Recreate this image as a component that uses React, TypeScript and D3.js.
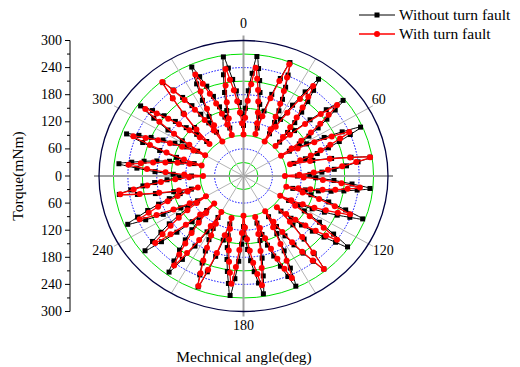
import React from 'react';
import * as d3 from 'd3';

// Petal start angles (deg, clockwise from top) and sample offsets within a petal
const petalStarts = [0, 15, 30, 45, 60, 75, 90, 105, 120, 135, 150, 165, 180, 195, 210, 225, 240, 255, 270, 285, 300, 315, 330, 345];
const sampleOffsets = [0, 1.5, 3, 4.5, 6, 7.5, 9, 10.5, 12, 13.5];

// Torque (mNm) without turn fault, one row per petal
const withoutFault = [
  [112, 150, 189, 228, 266, 240, 214, 188, 162, 136],
  [110, 150, 190, 229, 269, 242, 215, 188, 162, 135],
  [108, 147, 187, 226, 265, 239, 212, 186, 159, 133],
  [106, 146, 186, 226, 266, 240, 214, 188, 162, 136],
  [110, 149, 188, 227, 266, 240, 213, 187, 161, 134],
  [108, 148, 187, 227, 266, 240, 215, 189, 163, 138],
  [112, 150, 188, 226, 264, 238, 211, 185, 159, 132],
  [106, 146, 186, 225, 265, 239, 213, 186, 160, 134],
  [108, 148, 188, 227, 267, 241, 215, 188, 162, 136],
  [110, 149, 188, 226, 265, 238, 211, 185, 158, 131],
  [104, 145, 186, 226, 267, 241, 214, 188, 161, 135],
  [108, 147, 186, 225, 264, 239, 213, 188, 163, 137],
  [112, 151, 189, 228, 266, 240, 214, 188, 162, 136],
  [110, 148, 187, 225, 263, 237, 211, 184, 158, 132],
  [106, 145, 185, 224, 263, 237, 211, 186, 160, 134],
  [108, 147, 186, 224, 263, 238, 212, 187, 161, 136],
  [110, 148, 187, 225, 263, 238, 213, 187, 162, 137],
  [112, 149, 187, 224, 261, 236, 210, 185, 159, 134],
  [108, 146, 184, 222, 260, 234, 209, 183, 157, 132],
  [106, 145, 183, 222, 260, 235, 210, 185, 160, 135],
  [110, 149, 187, 226, 264, 238, 212, 186, 160, 134],
  [108, 148, 187, 227, 266, 240, 215, 189, 163, 138],
  [112, 150, 188, 226, 264, 238, 213, 187, 161, 136],
  [110, 149, 189, 228, 267, 241, 215, 189, 163, 138],
];

// Torque (mNm) with turn fault
const withFault = [
  [92, 129, 167, 204, 241, 217, 193, 168, 144, 120],
  [96, 138, 181, 223, 265, 236, 206, 177, 147, 118],
  [88, 128, 167, 207, 246, 221, 195, 170, 145, 119],
  [94, 133, 172, 211, 250, 223, 197, 170, 143, 117],
  [90, 128, 165, 203, 240, 217, 193, 170, 147, 123],
  [100, 142, 183, 225, 266, 236, 206, 176, 146, 116],
  [86, 125, 165, 204, 243, 218, 193, 167, 142, 117],
  [92, 128, 165, 201, 237, 212, 187, 163, 138, 113],
  [88, 126, 164, 202, 240, 216, 193, 169, 145, 122],
  [98, 140, 182, 223, 265, 236, 207, 178, 148, 119],
  [90, 129, 169, 208, 247, 222, 196, 171, 145, 120],
  [94, 132, 170, 207, 245, 219, 193, 166, 140, 114],
  [88, 126, 164, 202, 240, 216, 192, 168, 144, 120],
  [96, 137, 179, 220, 261, 233, 205, 176, 148, 120],
  [92, 130, 169, 207, 245, 219, 192, 166, 139, 113],
  [86, 124, 161, 199, 236, 212, 187, 163, 139, 114],
  [90, 127, 163, 200, 236, 213, 190, 167, 144, 121],
  [98, 138, 179, 219, 259, 230, 201, 172, 142, 113],
  [84, 123, 162, 201, 240, 215, 190, 165, 140, 115],
  [90, 129, 168, 206, 245, 220, 194, 169, 143, 118],
  [92, 132, 172, 212, 252, 227, 201, 176, 151, 125],
  [100, 142, 184, 226, 268, 238, 208, 178, 148, 118],
  [88, 128, 167, 207, 246, 221, 195, 170, 145, 119],
  [94, 131, 167, 204, 240, 215, 191, 166, 141, 117],
];

const gridRadii = [30, 60, 90, 120, 150, 180, 210, 240, 270];
const gridAngles = [0, 30, 60, 90, 120, 150, 180, 210, 240, 270, 300, 330];
const angleLabels = [0, 60, 120, 180, 240, 300];
const torqueMajorTicks = [-300, -240, -180, -120, -60, 0, 60, 120, 180, 240, 300];
const torqueMinorTicks = [-270, -210, -150, -90, -30, 30, 90, 150, 210, 270];
const seriesNames = ['Without turn fault', 'With turn fault'];

const W = 520;
const H = 367;
const cx = 243.5;
const cy = 176;
const rMax = 300;
const sx = d3.scaleLinear().domain([0, rMax]).range([0, 144.5]);
const sy = d3.scaleLinear().domain([0, rMax]).range([0, 135.5]);
const yAxis = d3.scaleLinear().domain([-rMax, rMax]).range([cy - 135.5, cy + 135.5]);
const axisX = 70;

const rad = (deg: number) => (deg * Math.PI) / 180;
const px = (a: number, r: number) => cx + sx(r) * Math.sin(rad(a));
const py = (a: number, r: number) => cy - sy(r) * Math.cos(rad(a));

function toPoints(rows: number[][]) {
  const pts: [number, number][] = [];
  rows.forEach((row, k) => {
    row.forEach((v, j) => {
      const a = petalStarts[k] + sampleOffsets[j];
      pts.push([px(a, v), py(a, v)]);
    });
  });
  return pts;
}

const FONT = '"Liberation Serif", "Times New Roman", serif';

export default function App() {
  const blackPts = toPoints(withoutFault);
  const redPts = toPoints(withFault);
  const line = d3.line<[number, number]>().curve(d3.curveCardinalClosed.tension(0));

  const labelPos = (a: number) => {
    const x0 = px(a, rMax);
    const y0 = py(a, rMax);
    if (a === 0) return { x: cx, y: y0 - 13, anchor: 'middle' };
    if (a === 180) return { x: cx, y: y0 + 18, anchor: 'middle' };
    if (a === 60) return { x: x0 + 3, y: y0 - 4, anchor: 'start' };
    if (a === 120) return { x: x0 + 4, y: y0 + 11, anchor: 'start' };
    if (a === 240) return { x: x0 - 5, y: y0 + 11, anchor: 'end' };
    return { x: x0 - 5, y: y0 - 4, anchor: 'end' };
  };

  return (
    <svg width={W} height={H} style={{ position: 'absolute', left: 0, top: 0, background: '#fff' }} fontFamily={FONT}>
      {/* grid circles */}
      {gridRadii.map((r, i) => (
        <ellipse
          key={'g' + r}
          cx={cx}
          cy={cy}
          rx={sx(r)}
          ry={sy(r)}
          fill="none"
          stroke={i % 2 === 0 ? '#00e000' : '#0000ff'}
          strokeWidth={1}
          strokeDasharray={i % 2 === 0 ? undefined : '1.5,1.5'}
        />
      ))}
      {/* radial lines */}
      {gridAngles.map((a) => {
        const quarter = a % 90 === 0;
        const labeled = a % 60 === 0 || a === 90 || a === 270;
        const x1 = px(a, rMax);
        const y1 = py(a, rMax);
        const ext = labeled ? 5 : 0;
        const ux = Math.sin(rad(a));
        const uy = -Math.cos(rad(a));
        return (
          <line
            key={'ra' + a}
            x1={cx}
            y1={cy}
            x2={x1 + ux * ext}
            y2={y1 + uy * ext}
            stroke={quarter ? '#a0a0a0' : '#b4b4b4'}
            strokeWidth={quarter ? 2 : 1}
          />
        );
      })}
      {/* outer circle */}
      <ellipse cx={cx} cy={cy} rx={sx(rMax)} ry={sy(rMax)} fill="none" stroke="#000040" strokeWidth={1.3} />
      {/* angle labels */}
      {angleLabels.map((a) => {
        const p = labelPos(a);
        return (
          <text key={'al' + a} x={p.x} y={p.y} textAnchor={p.anchor} fontSize={14} fill="#000">
            {a}
          </text>
        );
      })}

      {/* series without fault */}
      <path d={line(blackPts) || ''} fill="none" stroke="#000" strokeWidth={1} />
      {blackPts.map((p, i) => (
        <rect key={'b' + i} x={p[0] - 2.5} y={p[1] - 2.5} width={5} height={5} fill="#000" />
      ))}
      {/* series with fault */}
      <path d={line(redPts) || ''} fill="none" stroke="#ff0000" strokeWidth={1.3} />
      {redPts.map((p, i) => (
        <circle key={'r' + i} cx={p[0]} cy={p[1]} r={3} fill="#ff0000" />
      ))}

      {/* left torque axis */}
      <line x1={axisX} y1={yAxis(-rMax)} x2={axisX} y2={yAxis(rMax)} stroke="#000" strokeWidth={1} />
      {torqueMajorTicks.map((t) => (
        <g key={'mt' + t}>
          <line x1={axisX - 5} x2={axisX} y1={yAxis(t)} y2={yAxis(t)} stroke="#000" />
          <text x={axisX - 8} y={yAxis(t) + 4.5} textAnchor="end" fontSize={14}>
            {Math.abs(t)}
          </text>
        </g>
      ))}
      {torqueMinorTicks.map((t) => (
        <line key={'mi' + t} x1={axisX - 3} x2={axisX} y1={yAxis(t)} y2={yAxis(t)} stroke="#000" />
      ))}
      <text transform={`translate(23,${cy}) rotate(-90)`} textAnchor="middle" fontSize={15.5}>
        Torque(mNm)
      </text>
      <text x={244} y={362} textAnchor="middle" fontSize={15.5}>
        Mechnical angle(deg)
      </text>

      {/* legend */}
      <line x1={359} x2={395} y1={15} y2={15} stroke="#000" strokeWidth={1} />
      <rect x={374.5} y={12.5} width={5} height={5} fill="#000" />
      <text x={399} y={20} fontSize={15.5}>{seriesNames[0]}</text>
      <line x1={359} x2={395} y1={34} y2={34} stroke="#ff0000" strokeWidth={1.3} />
      <circle cx={377} cy={34} r={3} fill="#ff0000" />
      <text x={399} y={39} fontSize={15.5}>{seriesNames[1]}</text>
    </svg>
  );
}
